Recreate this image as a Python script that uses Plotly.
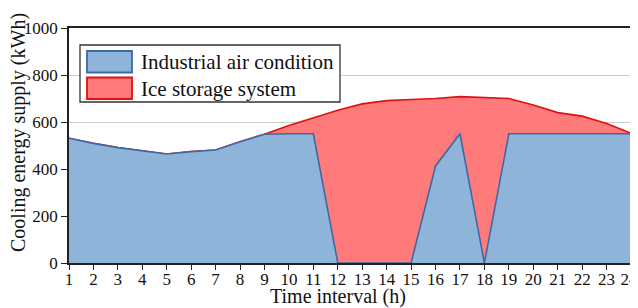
import plotly.graph_objects as go

hours = list(range(1, 25))
industrial = [531, 509, 491, 476, 464, 474, 481, 516, 548, 550, 550, 0,
              0, 0, 0, 413, 550, 0, 550, 550, 550, 550, 550, 550]
total = [531, 509, 491, 476, 464, 474, 481, 516, 548, 585, 618, 650,
         677, 691, 696, 700, 708, 704, 700, 672, 640, 625, 594, 552]
series_names = ["Industrial air condition", "Ice storage system"]
y_ticks = [0, 200, 400, 600, 800, 1000]
x_tick_labels = [str(h) for h in hours]
x_title = "Time interval (h)"
y_title = "Cooling energy supply (kWh)"

FONT = "Liberation Serif, Times New Roman, serif"
BLUE_FILL = "#8FB4DA"
BLUE_LINE = "#3D6AA3"
RED_FILL = "#FF7B7B"
RED_LINE = "#E01010"

# page has 8px body margin; compensate so plot lands where reference has it
OFF = 8
W, H = 638 - OFF, 308 - OFF
L, R, T, B = 69, 631, 28, 263  # target pixel positions in the window

fig = go.Figure()
fig.add_trace(go.Scatter(x=hours, y=total, mode="lines", fill="tozeroy",
                         fillcolor=RED_FILL, line=dict(color=RED_LINE, width=1.6),
                         name=series_names[1], showlegend=False))
fig.add_trace(go.Scatter(x=hours, y=industrial, mode="lines", fill="tozeroy",
                         fillcolor=BLUE_FILL, line=dict(color=BLUE_LINE, width=1.6),
                         name=series_names[0], showlegend=False))


def px_x(px):
    return (px - L) / (R - L)


def px_y(py):
    return (B - py) / (B - T)


shapes = [
    dict(type="rect", xref="paper", yref="paper",
         x0=px_x(80), x1=px_x(340), y0=px_y(102), y1=px_y(45),
         line=dict(color="#333333", width=1.3), fillcolor="white", layer="above"),
    dict(type="rect", xref="paper", yref="paper",
         x0=px_x(87), x1=px_x(132), y0=px_y(72.5), y1=px_y(51),
         line=dict(color=BLUE_LINE, width=1.8), fillcolor=BLUE_FILL, layer="above"),
    dict(type="rect", xref="paper", yref="paper",
         x0=px_x(87), x1=px_x(132), y0=px_y(99), y1=px_y(77.5),
         line=dict(color=RED_LINE, width=1.8), fillcolor=RED_FILL, layer="above"),
]
annotations = [
    dict(xref="paper", yref="paper", x=px_x(139), y=px_y(62),
         text=series_names[0], showarrow=False, xanchor="left", yanchor="middle",
         font=dict(family=FONT, size=21, color="#111")),
    dict(xref="paper", yref="paper", x=px_x(139), y=px_y(89),
         text=series_names[1], showarrow=False, xanchor="left", yanchor="middle",
         font=dict(family=FONT, size=21, color="#111")),
    dict(xref="paper", yref="paper", x=px_x(338), y=px_y(296),
         text=x_title, showarrow=False, xanchor="center", yanchor="middle",
         font=dict(family=FONT, size=20, color="#111")),
    dict(xref="paper", yref="paper", x=px_x(18), y=px_y(133),
         text=y_title, showarrow=False, xanchor="center", yanchor="middle",
         textangle=-90, font=dict(family=FONT, size=20, color="#111")),
]

# last label padded so it stays inside the page edge, like the reference
tick_text = x_tick_labels[:-1] + [x_tick_labels[-1] + "&nbsp;"]

fig.update_layout(
    width=W, height=H,
    margin=dict(l=L - OFF, r=638 - R, t=T - OFF, b=308 - B),
    paper_bgcolor="white", plot_bgcolor="white",
    font=dict(family=FONT, size=17, color="#111"),
    shapes=shapes, annotations=annotations,
    showlegend=False,
)
fig.update_xaxes(
    range=[1, 24], tickmode="array", tickvals=hours, ticktext=tick_text,
    ticks="outside", ticklen=5, tickcolor="#222", showgrid=False,
    showline=True, linecolor="#222", linewidth=1.5, mirror=True,
    tickfont=dict(family=FONT, size=17), automargin=False,
    ticklabelstandoff=-5, ticklabeloverflow="allow",
)
fig.update_yaxes(
    range=[0, 1000], tickmode="array", tickvals=y_ticks,
    ticks="outside", ticklen=6, tickcolor="#222",
    showgrid=True, gridcolor="#CCCCCC", gridwidth=1, zeroline=False,
    showline=True, linecolor="#222", linewidth=1.5, mirror=True,
    tickfont=dict(family=FONT, size=17), automargin=False,
)

fig.write_html("out.html")
